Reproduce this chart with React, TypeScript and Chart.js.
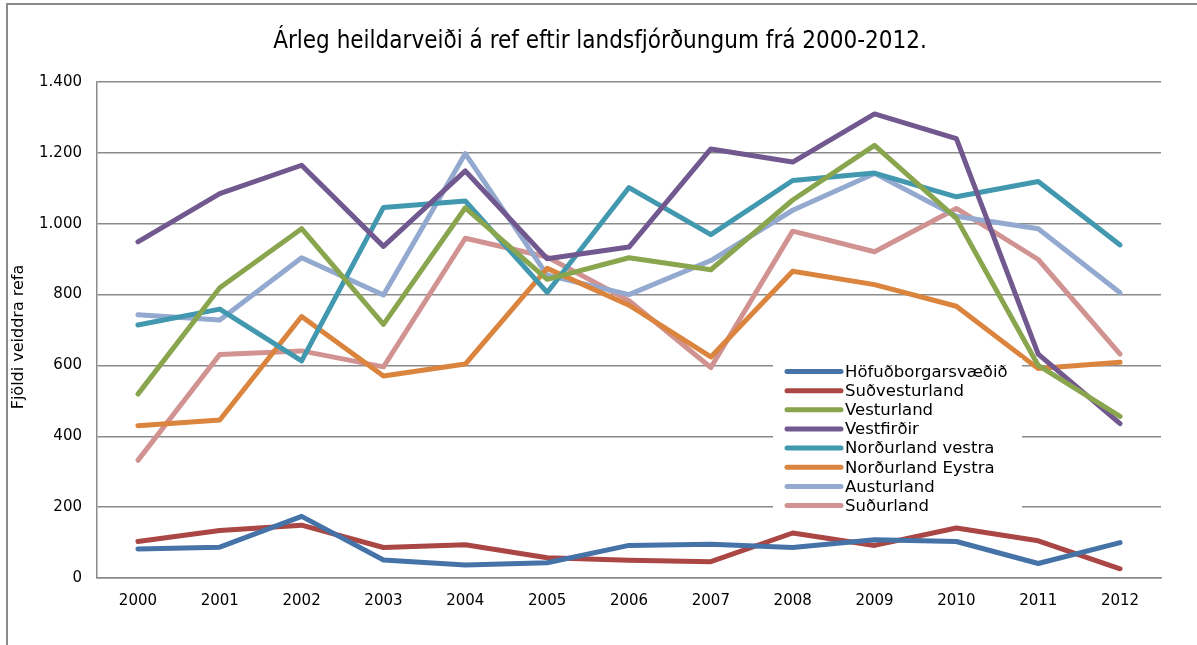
import React, { useEffect, useRef } from "react";
import { Chart, registerables } from "chart.js";

Chart.register(...registerables);

const years = ["2000", "2001", "2002", "2003", "2004", "2005", "2006", "2007", "2008", "2009", "2010", "2011", "2012"];

const hofudborgarsvaedid = [82, 87, 174, 51, 37, 43, 92, 95, 86, 108, 103, 41, 100];
const sudvesturland = [103, 134, 149, 86, 94, 57, 50, 46, 127, 92, 141, 105, 26];
const vesturland = [519, 819, 986, 716, 1045, 843, 904, 870, 1067, 1221, 1015, 600, 456];
const vestfirdir = [949, 1085, 1165, 936, 1149, 901, 934, 1211, 1174, 1310, 1240, 632, 436];
const nordurlandVestra = [714, 759, 613, 1046, 1064, 806, 1102, 969, 1122, 1143, 1076, 1119, 940];
const nordurlandEystra = [430, 446, 738, 570, 604, 874, 770, 624, 866, 828, 767, 591, 609];
const austurland = [743, 728, 904, 799, 1198, 855, 800, 896, 1038, 1142, 1021, 986, 805];
const sudurland = [332, 631, 641, 596, 959, 906, 783, 594, 979, 921, 1043, 899, 632];

const seriesNames = [
  "Höfuðborgarsvæðið",
  "Suðvesturland",
  "Vesturland",
  "Vestfirðir",
  "Norðurland vestra",
  "Norðurland Eystra",
  "Austurland",
  "Suðurland",
];
const seriesData = [
  hofudborgarsvaedid,
  sudvesturland,
  vesturland,
  vestfirdir,
  nordurlandVestra,
  nordurlandEystra,
  austurland,
  sudurland,
];
const seriesColors = ["#4572A7", "#AA4643", "#89A54E", "#71588F", "#4198AF", "#DB843D", "#93A9CF", "#D19392"];

const titleText = "Árleg heildarveiði á ref eftir landsfjórðungum frá 2000-2012.";
const yTitleText = "Fjöldi veiddra refa";

const FONT = "'DejaVu Sans', Verdana, sans-serif";

const decorPlugin = {
  id: "decor",
  beforeDraw(chart: any) {
    const ctx = chart.ctx;
    ctx.save();
    ctx.fillStyle = "#ffffff";
    ctx.fillRect(0, 0, chart.width, chart.height);
    ctx.strokeStyle = "#8a8a8a";
    ctx.lineWidth = 2;
    ctx.beginPath();
    ctx.moveTo(7, chart.height);
    ctx.lineTo(7, 4);
    ctx.lineTo(chart.width, 4);
    ctx.stroke();
    // title
    ctx.fillStyle = "#000000";
    ctx.font = "24px 'DejaVu Sans Condensed', 'DejaVu Sans', sans-serif";
    ctx.textAlign = "center";
    ctx.textBaseline = "middle";
    ctx.fillText(titleText, 600, 42);
    // y title
    ctx.translate(19, 337);
    ctx.rotate(-Math.PI / 2);
    ctx.font = "16px " + FONT;
    ctx.fillText(yTitleText, 0, 0);
    ctx.restore();
  },
  afterDatasetsDraw(chart: any) {
    const ctx = chart.ctx;
    ctx.save();
    ctx.fillStyle = "#ffffff";
    ctx.fillRect(773, 358, 249, 159);
    const x0 = 787;
    const x1 = 841;
    const y0 = 371.5;
    const step = 19.15;
    ctx.font = "16.5px " + FONT;
    ctx.textAlign = "left";
    ctx.textBaseline = "middle";
    chart.data.datasets.forEach((ds: any, i: number) => {
      const y = y0 + i * step;
      ctx.strokeStyle = ds.borderColor;
      ctx.lineWidth = 5;
      ctx.lineCap = "round";
      ctx.beginPath();
      ctx.moveTo(x0, y);
      ctx.lineTo(x1, y);
      ctx.stroke();
      ctx.fillStyle = "#000000";
      ctx.fillText(ds.label, 845, y + 1);
    });
    ctx.restore();
  },
};

export default function App() {
  const canvasRef = useRef<HTMLCanvasElement | null>(null);

  useEffect(() => {
    if (!canvasRef.current) return;
    const chart = new Chart(canvasRef.current, {
      type: "line",
      data: {
        labels: years,
        datasets: seriesNames.map((name, i) => ({
          label: name,
          data: seriesData[i],
          borderColor: seriesColors[i],
          backgroundColor: seriesColors[i],
          borderWidth: 5,
          pointRadius: 0,
          pointHoverRadius: 0,
          tension: 0,
          borderCapStyle: "round" as const,
          borderJoinStyle: "round" as const,
          fill: false,
        })),
      },
      options: {
        animation: false,
        responsive: false,
        devicePixelRatio: 1,
        layout: { padding: { top: 82, right: 36, left: 0, bottom: 0 } },
        plugins: {
          legend: { display: false },
          title: { display: false },
          tooltip: { enabled: false },
        },
        scales: {
          x: {
            offset: true,
            grid: { display: false, drawTicks: false },
            border: { display: true, color: "#8a8a8a", width: 1.5 },
            ticks: {
              padding: 14,
              color: "#000000",
              font: { family: FONT, size: 15 },
              maxRotation: 0,
              autoSkip: false,
            },
            afterFit(scale: any) {
              scale.height = 67;
            },
          },
          y: {
            min: 0,
            max: 1400,
            grid: { color: "#8a8a8a", lineWidth: 1.5, drawTicks: false },
            border: { display: true, color: "#8a8a8a", width: 1.5 },
            ticks: {
              stepSize: 200,
              padding: 15,
              color: "#000000",
              font: { family: FONT, size: 15 },
              callback: (v: any) => {
                const n = Number(v);
                return n >= 1000 ? Math.floor(n / 1000) + "." + String(n % 1000).padStart(3, "0") : String(n);
              },
            },
            afterFit(scale: any) {
              scale.width = 97;
            },
          },
        },
      },
      plugins: [decorPlugin],
    });
    return () => chart.destroy();
  }, []);

  return (
    <div style={{ position: "fixed", left: 0, top: 0, width: 1197, height: 645, background: "#fff" }}>
      <canvas ref={canvasRef} width={1197} height={645} style={{ display: "block" }} />
    </div>
  );
}
